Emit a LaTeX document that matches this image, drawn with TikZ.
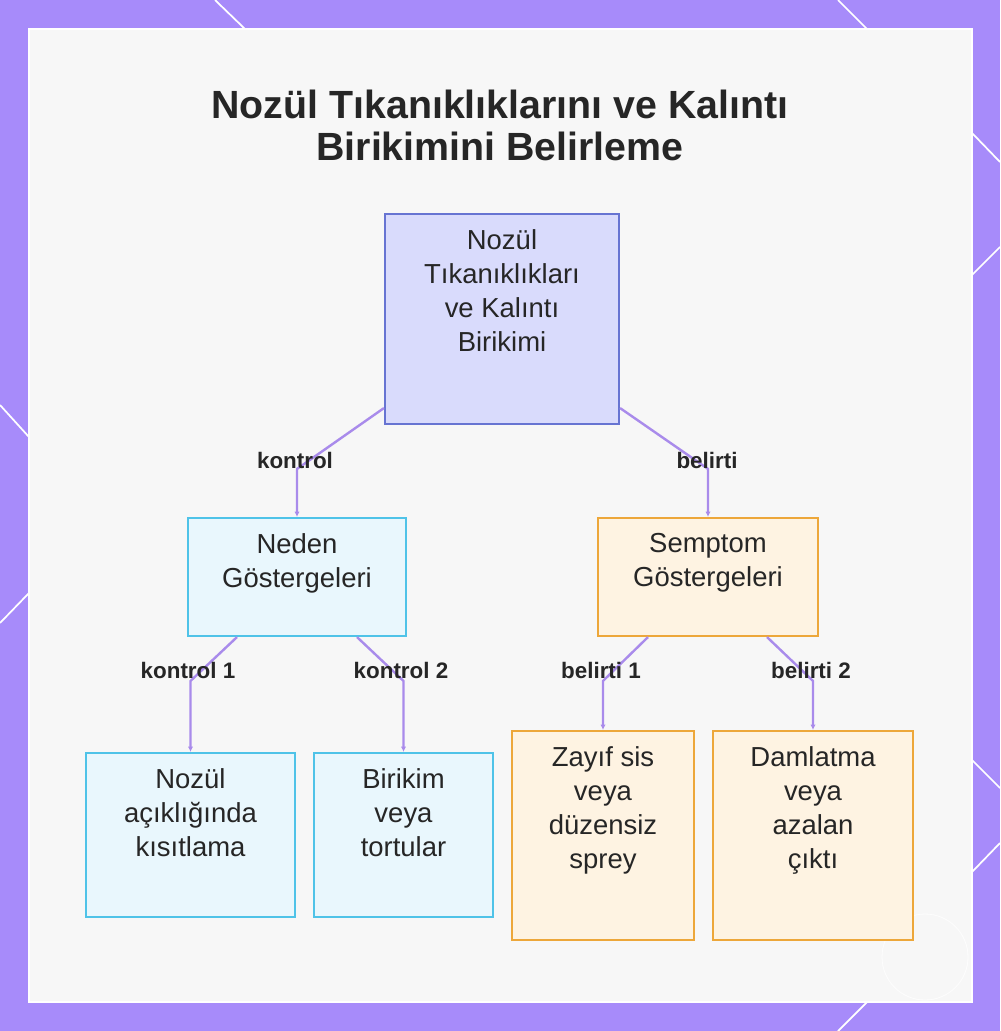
\documentclass[tikz,border=0pt]{standalone}
\usepackage{fontspec}
\setmainfont{Liberation Sans}
\usetikzlibrary{arrows.meta}
\definecolor{framec}{HTML}{A78BFA}
\definecolor{panelc}{HTML}{F7F7F7}
\definecolor{rootfill}{HTML}{D9DBFC}
\definecolor{rootdraw}{HTML}{6774D2}
\definecolor{cyanfill}{HTML}{E9F7FD}
\definecolor{cyandraw}{HTML}{4FC3E8}
\definecolor{orfill}{HTML}{FEF3E2}
\definecolor{ordraw}{HTML}{EDA73A}
\definecolor{connc}{HTML}{A98BEB}
\definecolor{txtc}{HTML}{262626}
\begin{document}
\begin{tikzpicture}[x=0.75pt,y=-0.75pt,
  boxbase/.style={rectangle, line width=1.6pt, inner sep=0pt},
  rootbox/.style={boxbase, draw=rootdraw, fill=rootfill},
  cyanbox/.style={boxbase, draw=cyandraw, fill=cyanfill},
  orbox/.style={boxbase, draw=ordraw, fill=orfill},
  boxtext/.style={anchor=north, inner sep=0pt, align=center, text=txtc,
    font=\fontsize{20.6pt}{25.5pt}\selectfont, yshift=-12.3pt},
  lbl/.style={text=txtc, inner sep=0pt, font=\fontsize{16.8pt}{19pt}\selectfont\bfseries},
  conn/.style={draw=connc, line width=1.8pt, line join=round,
    -{Latex[length=4pt,width=4pt]}},
  deco/.style={draw=white, line width=1.3pt},
  titlestyle/.style={align=center, text=txtc, inner sep=0pt,
    font=\fontsize{29.5pt}{31.5pt}\selectfont\bfseries}
]
\useasboundingbox (0,0) rectangle (1000,1031);
\fill[framec] (0,0) rectangle (1000,1031);
% decorative lines in the frame
\draw[deco] (215,0) -- (245,29);
\draw[deco] (838,0) -- (867,29);
\draw[deco] (0,405) -- (29,437);
\draw[deco] (0,623) -- (29,593);
\draw[deco] (972,133) -- (1000,162);
\draw[deco] (972,275) -- (1000,247);
\draw[deco] (972,760) -- (1000,788);
\draw[deco] (972,872) -- (1000,843);
\draw[deco] (867,1002) -- (838,1031);
% panel
\draw[fill=panelc, draw=white, line width=1.5pt] (29,29) rectangle (972,1002);
\draw[white, line width=0.6pt, opacity=0.8] (925,957) circle[radius=43];

% title
\node[titlestyle] (title) at (500,125.5) {Nozül Tıkanıklıklarını ve Kalıntı\\Birikimini Belirleme};

% boxes
\node[rootbox, minimum width=175.5pt, minimum height=157.5pt] (root) at (502,319) {};
\node[boxtext] (rootT) at (root.north) {Nozül\\Tıkanıklıkları\\ve Kalıntı\\Birikimi};

\node[cyanbox, minimum width=163.5pt, minimum height=88.5pt] (neden) at (297,577) {};
\node[boxtext] (nedenT) at (neden.north) {Neden\\Göstergeleri};

\node[orbox, minimum width=165pt, minimum height=88.5pt] (semptom) at (708,577) {};
\node[boxtext] (semptomT) at (semptom.north) {Semptom\\Göstergeleri};

\node[cyanbox, minimum width=156.75pt, minimum height=123pt] (nozul) at (190.5,835) {};
\node[boxtext] (nozulT) at (nozul.north) {Nozül\\açıklığında\\kısıtlama};

\node[cyanbox, minimum width=134.25pt, minimum height=123pt] (birikim) at (403.5,835) {};
\node[boxtext] (birikimT) at (birikim.north) {Birikim\\veya\\tortular};

\node[orbox, minimum width=136.5pt, minimum height=156.75pt] (zayif) at (603,835.5) {};
\node[boxtext] (zayifT) at (zayif.north) {Zayıf sis\\veya\\düzensiz\\sprey};

\node[orbox, minimum width=150pt, minimum height=156.75pt] (damla) at (813,835.5) {};
\node[boxtext] (damlaT) at (damla.north) {Damlatma\\veya\\azalan\\çıktı};

% connectors
\draw[conn] ([yshift=12.75pt]root.south west) -- ([yshift=36pt]neden.north) -- (neden.north);
\draw[conn] ([yshift=12.75pt]root.south east) -- ([yshift=36pt]semptom.north) -- (semptom.north);
\draw[conn] ([xshift=-45pt]neden.south) -- ([yshift=53.25pt]nozul.north) -- (nozul.north);
\draw[conn] ([xshift=45pt]neden.south) -- ([yshift=53.25pt]birikim.north) -- (birikim.north);
\draw[conn] ([xshift=-45pt]semptom.south) -- ([yshift=36.75pt]zayif.north) -- (zayif.north);
\draw[conn] ([xshift=44.25pt]semptom.south) -- ([yshift=36.75pt]damla.north) -- (damla.north);

% labels
\node[lbl] (l1) at (295,460) {kontrol};
\node[lbl] (l2) at (707,460) {belirti};
\node[lbl] (l3) at (188,670) {kontrol 1};
\node[lbl] (l4) at (401,670) {kontrol 2};
\node[lbl] (l5) at (601,670) {belirti 1};
\node[lbl] (l6) at (811,670) {belirti 2};
\end{tikzpicture}
\end{document}
